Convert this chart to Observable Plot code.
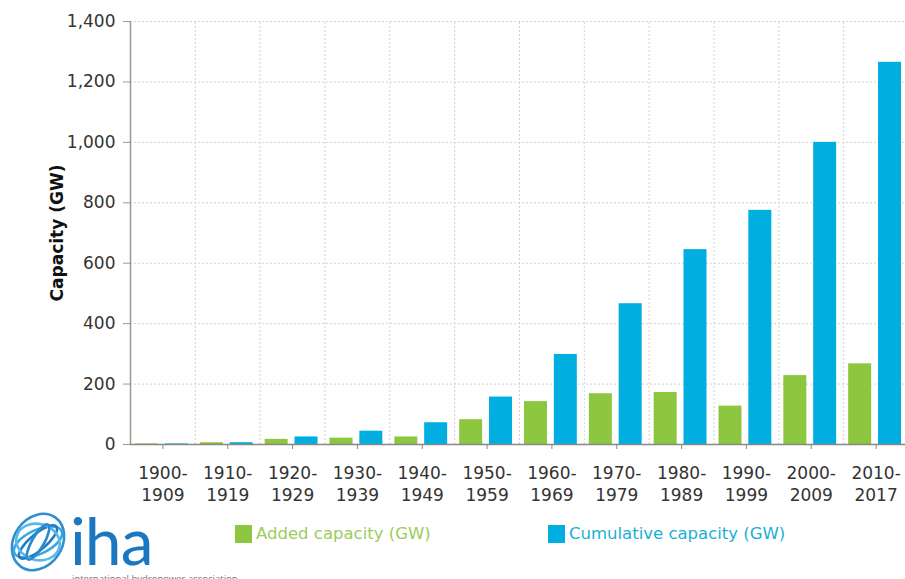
<!DOCTYPE html>
<html>
<head>
<meta charset="utf-8">
<script src="https://cdn.jsdelivr.net/npm/d3@7"></script>
<script src="https://cdn.jsdelivr.net/npm/@observablehq/plot@0.6"></script>
<style>
  html, body { margin: 0; padding: 0; background: #fff; overflow: hidden; }
  #wrap { position: relative; width: 905px; height: 579px; overflow: hidden; font-family: "DejaVu Sans", Verdana, sans-serif; }
  #chart { position: absolute; left: 0; top: 0; width: 908px; }
  #chart svg { max-width: none !important; }
  .leg { position: absolute; top: 524px; display: flex; align-items: center; font-size: 16.5px; white-space: nowrap; }
  .leg .sw { width: 17px; height: 18px; margin-right: 4px; }
  #logo { position: absolute; left: 8px; top: 507px; }
</style>
</head>
<body>
<div id="wrap">
  <div id="chart"></div>
  <div class="leg" style="left:235px; color:#9ccc5c;"><div class="sw" style="background:#8dc63f"></div>Added capacity (GW)</div>
  <div class="leg" style="left:548px; color:#19afd9;"><div class="sw" style="background:#00afe0"></div>Cumulative capacity (GW)</div>
  <svg id="logo" width="240" height="90" viewBox="0 0 240 90">
    <g fill="none" stroke-width="2.6">
      <ellipse cx="30" cy="35" rx="24" ry="30" stroke="#2f8fd0" transform="rotate(35 30 35)"/>
      <ellipse cx="30" cy="35" rx="26" ry="12" stroke="#3aa7e0" transform="rotate(-25 30 35)"/>
      <ellipse cx="30" cy="35" rx="24" ry="8" stroke="#1e7cc4" transform="rotate(-40 30 35)"/>
      <ellipse cx="30" cy="35" rx="22" ry="18" stroke="#56b9e8" transform="rotate(15 30 35)"/>
      <ellipse cx="30" cy="35" rx="20" ry="6" stroke="#2a8ad0" transform="rotate(-60 30 35)"/>
    </g>
    <text x="62" y="58" font-family="Lato, 'Open Sans', sans-serif" font-size="66" fill="#1b78c0" letter-spacing="-1">iha</text>
    <text x="64" y="75" font-family="'Open Sans', sans-serif" font-size="9.5" fill="#777">international hydropower association</text>
  </svg>
</div>
<script>
const decades = ["1900-1909","1910-1919","1920-1929","1930-1939","1940-1949","1950-1959","1960-1969","1970-1979","1980-1989","1990-1999","2000-2009","2010-2017"];
const added = [2, 6, 17, 21, 25, 82, 142, 168, 172, 127, 228, 267];
const cumulative = [2, 6, 25, 44, 72, 157, 298, 466, 645, 775, 1000, 1265];
const yTicks = [0, 200, 400, 600, 800, 1000, 1200, 1400];

const W = 908, marginLeft = 130, marginRight = 0;
const bw = (W - marginLeft - marginRight) / decades.length;

const rows = decades.map((d, i) => ({decade: d, added: added[i], cumulative: cumulative[i]}));

const chart = Plot.plot({
  width: W,
  height: 506,
  marginTop: 21,
  marginBottom: 62,
  marginLeft,
  marginRight,
  style: {fontFamily: "'DejaVu Sans', Verdana, sans-serif", fontSize: "17px", color: "#333", background: "transparent"},
  x: {domain: decades, padding: 0, round: false},
  y: {domain: [0, 1400]},
  marks: [
    Plot.gridY(yTicks, {stroke: "#d2d2d2", strokeOpacity: 1, strokeDasharray: "2,2"}),
    Plot.ruleX(decades.slice(1), {x: d => d, dx: -bw / 2, y1: 0, y2: 1400, stroke: "#d2d2d2", strokeDasharray: "2,2"}),
    Plot.barY(rows, {x: "decade", y: "added", fill: "#8dc63f", insetLeft: 5, insetRight: bw - 5 - 23}),
    Plot.barY(rows, {x: "decade", y: "cumulative", fill: "#00afe0", insetLeft: bw - 7 - 23, insetRight: 7}),
    Plot.ruleX([decades[0]], {dx: -bw / 2, y1: 0, y2: 1400, stroke: "#999", strokeWidth: 1.5}),
    Plot.ruleY([0], {stroke: "#888", strokeWidth: 1.5}),
    Plot.axisY({
      ticks: yTicks,
      tickFormat: d3.format(","),
      tickSize: 7,
      tickPadding: 8,
      stroke: "#999",
      label: "Capacity (GW)",
      labelAnchor: "center",
      labelArrow: "none",
      labelOffset: 80
    }),
    Plot.axisX({
      tickFormat: d => d.replace("-", "-\n"),
      tickSize: 5,
      tickPadding: 15,
      stroke: "#888",
      lineHeight: 1.24,
      label: null
    })
  ]
});
d3.select(chart).selectAll("g[aria-label='y-axis label'] text").style("font-weight", "bold").style("font-size", "17px").style("fill", "#111");
document.getElementById("chart").appendChild(chart);
</script>
</body>
</html>
